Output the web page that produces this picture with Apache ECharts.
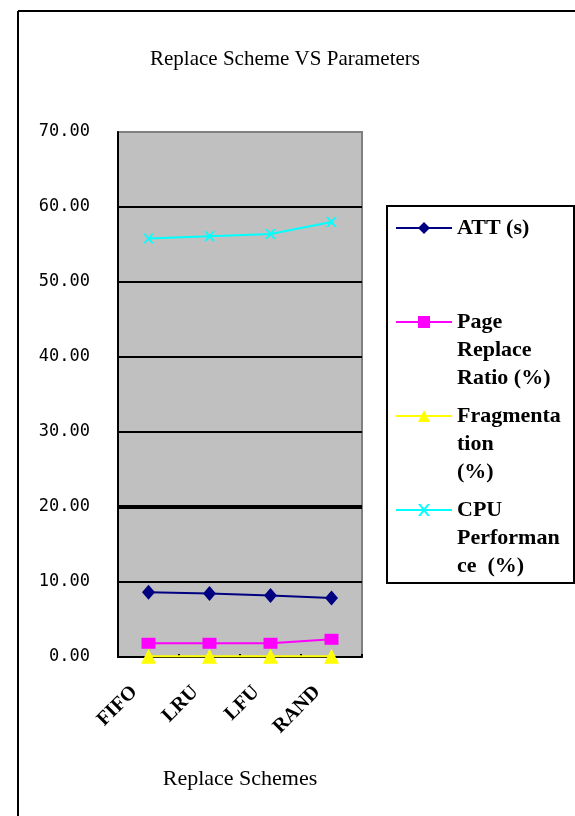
<!DOCTYPE html>
<html>
<head>
<meta charset="utf-8">
<script src="https://cdn.jsdelivr.net/npm/echarts@6/dist/echarts.min.js"></script>
<style>
  html, body { margin: 0; padding: 0; background: #ffffff; }
  #chart { width: 575px; height: 816px; }
</style>
</head>
<body>
<div id="chart"></div>
<script>
// Replacement schemes on the category axis
const schemes = ['FIFO', 'LRU', 'LFU', 'RAND'];

// Measured parameters per scheme
const attSeconds = [8.64, 8.46, 8.19, 7.88];
const pageReplaceRatio = [1.83, 1.83, 1.83, 2.36];
const fragmentation = [0.1, 0.1, 0.1, 0.1];
const cpuPerformance = [55.8, 56.1, 56.4, 58.0];

// Value axis range
const yMin = 0;
const yMax = 70;
const yStep = 10;

// Series names and the wrapped legend captions
const seriesNames = ['ATT (s)', 'Page Replace Ratio (%)', 'Fragmentation (%)', 'CPU Performance (%)'];
const legendCaptions = ['ATT (s)', 'Page\nReplace\nRatio (%)', 'Fragmenta\ntion\n(%)', 'CPU\nPerforman\nce  (%)'];

const chart = echarts.init(document.getElementById('chart'), null, { renderer: 'canvas' });

const serifFont = '"Liberation Serif", "Times New Roman", serif';
const LINE_H = 28;
const legendIconY = [228, 322, 416, 510];
const seriesColors = ['#000080', '#ff00ff', '#ffff00', '#00ffff'];
const crossPath = 'path://M0,0 L2,0 L5,3.5 L8,0 L10,0 L6,5 L10,10 L8,10 L5,6.5 L2,10 L0,10 L4,5 Z';

// One legend per entry; blank lines above each caption keep the key level with its first line
const legends = seriesNames.map((name, i) => {
  const lines = legendCaptions[i].split('\n');
  const blank = new Array(lines.length - 1).fill(' ');
  const caption = blank.concat(lines).join('\n');
  const total = blank.length + lines.length;
  return {
    show: true,
    orient: 'vertical',
    left: 395,
    top: legendIconY[i] - (total * LINE_H) / 2,
    padding: 0,
    itemWidth: 56,
    itemHeight: 15,
    data: [name],
    formatter: () => caption,
    textStyle: {
      fontFamily: serifFont,
      fontSize: 22,
      fontWeight: 'bold',
      color: '#000',
      lineHeight: LINE_H
    }
  };
});

const option = {
  animation: false,
  backgroundColor: '#ffffff',
  title: {
    text: 'Replace Scheme VS Parameters',
    left: 280,
    textAlign: 'center',
    top: 44,
    textStyle: { fontFamily: serifFont, fontSize: 21, fontWeight: 'normal', color: '#000' }
  },
  legend: legends,
  grid: {
    left: 118,
    top: 132,
    right: 213,
    bottom: 159,
    show: true,
    backgroundColor: '#c0c0c0',
    borderColor: '#808080',
    borderWidth: 2
  },
  xAxis: {
    type: 'category',
    data: schemes,
    boundaryGap: true,
    name: 'Replace Schemes',
    nameLocation: 'middle',
    nameGap: 111,
    nameTextStyle: { fontFamily: serifFont, fontSize: 22, color: '#000' },
    axisLine: { show: true, lineStyle: { color: '#000', width: 2 } },
    axisTick: { show: true, inside: true, length: 3, interval: 0, lineStyle: { color: '#000', width: 2 } },
    axisLabel: {
      interval: 0,
      rotate: 45,
      margin: 18,
      padding: [0, 20, 0, 0],
      fontFamily: serifFont,
      fontSize: 20,
      fontWeight: 'bold',
      color: '#000'
    },
    splitLine: { show: false }
  },
  yAxis: {
    type: 'value',
    min: yMin,
    max: yMax,
    interval: yStep,
    axisLine: { show: true, lineStyle: { color: '#000', width: 2 } },
    axisTick: { show: false },
    axisLabel: {
      margin: 28,
      fontFamily: '"DejaVu Sans Mono", monospace',
      fontSize: 17,
      color: '#000',
      formatter: (v) => v.toFixed(2)
    },
    splitLine: {
      show: true,
      lineStyle: {
        color: ['#000', '#000', '#000', '#000', '#000', '#000', '#000', '#808080'],
        width: 2
      }
    }
  },
  graphic: [
    // outer chart frame
    { type: 'line', shape: { x1: 18, y1: 11, x2: 600, y2: 11 }, style: { stroke: '#000', lineWidth: 2 }, silent: true },
    { type: 'line', shape: { x1: 18, y1: 11, x2: 18, y2: 830 }, style: { stroke: '#000', lineWidth: 2 }, silent: true },
    // legend box
    { type: 'rect', shape: { x: 387, y: 206, width: 187, height: 377 }, style: { fill: 'none', stroke: '#000', lineWidth: 2 }, silent: true, z: -1 }
  ],
  series: [
    {
      name: seriesNames[0],
      type: 'line',
      data: attSeconds,
      color: seriesColors[0],
      symbol: 'diamond',
      symbolSize: [13, 15],
      lineStyle: { width: 2, color: seriesColors[0] },
      itemStyle: { color: seriesColors[0] },
      // heavier reference line at 20
      markLine: {
        silent: true,
        symbol: 'none',
        label: { show: false },
        lineStyle: { color: '#000', width: 4, type: 'solid' },
        data: [{ yAxis: 20 }],
        animation: false
      }
    },
    {
      name: seriesNames[1],
      type: 'line',
      data: pageReplaceRatio,
      color: seriesColors[1],
      symbol: 'rect',
      symbolSize: [14, 11],
      lineStyle: { width: 2, color: seriesColors[1] },
      itemStyle: { color: seriesColors[1] }
    },
    {
      name: seriesNames[2],
      type: 'line',
      data: fragmentation,
      color: seriesColors[2],
      symbol: 'triangle',
      symbolSize: [15, 15],
      lineStyle: { width: 2, color: seriesColors[2] },
      itemStyle: { color: seriesColors[2] }
    },
    {
      name: seriesNames[3],
      type: 'line',
      data: cpuPerformance,
      color: seriesColors[3],
      symbol: crossPath,
      symbolSize: [11, 10],
      lineStyle: { width: 2, color: seriesColors[3] },
      itemStyle: { color: seriesColors[3] }
    }
  ]
};

chart.setOption(option);
</script>
</body>
</html>
